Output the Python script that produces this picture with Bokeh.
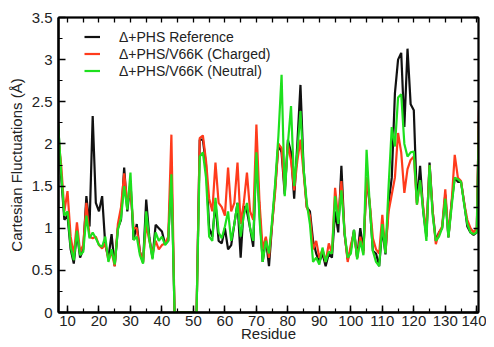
from bokeh.plotting import figure
from bokeh.models import FixedTicker, LinearAxis, NumeralTickFormatter, Range1d
from bokeh.embed import file_html
from bokeh.resources import INLINE

residues = list(range(7, 142))

reference = [
    2.25, 1.60, 1.10, 1.15, 0.75, 0.58, 0.95, 0.65, 0.75, 1.38,   # 7-16
    1.02, 2.33, 1.30, 1.20, 1.38, 0.80, 0.65, 0.93, 0.55, 1.00,   # 17-26
    1.10, 1.72, 1.20, 1.55, 0.86, 1.05, 0.72, 0.59, 1.34, 0.89,   # 27-36
    0.65, 1.04, 1.00, 0.96, 0.81, 0.85, 1.70,                     # 37-43
    0, 0, 0, 0, 0, 0, 0, 0,                                       # 44-51
    2.05, 2.05, 1.75, 1.00, 0.90, 1.30, 0.85, 0.82, 1.00, 0.75,   # 52-61
    0.80, 1.05, 1.30, 0.65, 1.26, 1.20, 1.00, 0.78, 1.90, 1.20,   # 62-71
    0.60, 0.88, 0.55, 1.05, 1.50, 2.00, 1.90, 1.40, 2.05, 1.90,   # 72-81
    1.35, 2.00, 2.70, 1.70, 1.25, 1.20, 0.85, 0.70, 0.60, 0.70,   # 82-91
    0.55, 0.70, 0.65, 1.20, 0.95, 1.74, 0.93, 0.63, 0.75, 0.98,   # 92-101
    0.65, 1.00, 0.73, 1.60, 1.28, 0.73, 0.70, 0.55, 1.00, 0.69,   # 102-111
    1.30, 1.60, 2.60, 3.00, 3.08, 2.20, 3.13, 2.47, 2.40, 1.30,   # 112-121
    1.74, 1.20, 0.90, 1.78, 1.20, 0.85, 0.95, 1.00, 1.40, 0.89,   # 122-131
    1.30, 1.60, 1.55, 1.55, 1.30, 1.02, 0.95, 0.92, 0.95, 3.00,   # 132-141
]

charged = [
    2.10, 1.75, 1.20, 1.44, 0.90, 0.68, 1.07, 0.72, 0.80, 1.30,
    0.90, 0.88, 0.90, 0.80, 0.76, 0.82, 0.62, 0.72, 0.55, 1.05,
    1.25, 1.65, 1.30, 1.45, 1.00, 1.00, 0.72, 0.60, 1.05, 0.85,
    0.70, 0.85, 0.75, 0.80, 0.82, 0.90, 2.11,
    0, 0, 0, 0, 0, 0, 0, 0,
    2.07, 2.10, 1.80, 1.35, 1.20, 1.78, 1.30, 1.25, 1.15, 1.72,
    1.20, 1.30, 1.78, 1.05, 1.30, 1.66, 1.20, 1.10, 2.23, 1.30,
    0.75, 0.90, 0.65, 1.05, 1.45, 2.00, 1.95, 1.45, 2.00, 1.80,
    1.45, 1.80, 2.05, 1.65, 1.25, 1.15, 0.75, 0.85, 0.65, 0.75,
    0.60, 0.82, 0.70, 1.48, 1.10, 1.56, 0.95, 0.60, 0.80, 0.95,
    0.65, 0.90, 0.70, 1.60, 1.30, 0.88, 0.75, 0.70, 1.16, 0.72,
    1.20, 1.40, 1.60, 2.13, 1.90, 1.42, 1.70, 1.81, 1.85, 1.28,
    1.55, 1.25, 0.95, 1.75, 1.20, 0.81, 0.95, 1.02, 1.46, 0.90,
    1.30, 1.87, 1.60, 1.56, 1.30, 1.10, 1.00, 0.95, 1.00, 3.00,
]

neutral = [
    2.25, 1.65, 1.15, 1.20, 0.78, 0.62, 0.97, 0.68, 0.72, 1.15,
    0.88, 0.95, 0.88, 0.80, 0.78, 0.90, 0.60, 0.75, 0.57, 0.98,
    1.12, 1.50, 1.22, 1.66, 0.86, 0.90, 0.68, 0.58, 1.20, 0.86,
    0.63, 0.95, 0.85, 0.90, 0.80, 0.85, 1.64,
    0, 0, 0, 0, 0, 0, 0, 0,
    1.85, 1.90, 1.60, 0.90, 0.85, 1.36, 0.95, 0.88, 1.02, 1.20,
    0.85, 1.05, 1.30, 0.90, 1.15, 1.30, 1.00, 0.85, 1.90, 1.10,
    0.60, 0.85, 0.70, 1.10, 1.55, 2.10, 2.82, 1.38, 2.00, 2.45,
    1.50, 1.90, 2.39, 1.70, 1.30, 1.05, 0.60, 0.65, 0.57, 0.77,
    0.60, 0.72, 0.70, 1.38, 1.05, 1.45, 0.95, 0.65, 0.70, 0.98,
    0.63, 0.85, 0.68, 1.93, 1.28, 0.73, 0.60, 0.55, 1.05, 0.70,
    1.50, 2.20, 1.97, 2.55, 2.59, 2.00, 1.85, 1.90, 1.91, 1.28,
    1.57, 1.20, 0.85, 1.75, 1.15, 0.85, 0.90, 1.00, 1.35, 0.89,
    1.25, 1.60, 1.58, 1.55, 1.28, 1.05, 0.95, 0.93, 0.95, 2.80,
]

series_names = ["\u0394+PHS Reference", "\u0394+PHS/V66K (Charged)", "\u0394+PHS/V66K (Neutral)"]
series_colors = ["#111111", "#ff3b1c", "#1ee01e"]
x_ticks = list(range(10, 141, 10))
x_minor = list(range(5, 146, 5))
y_ticks = [0, 0.5, 1, 1.5, 2, 2.5, 3, 3.5]
y_minor = [i * 0.25 for i in range(0, 15)]

FONT = "Liberation Sans"

p = figure(width=486, height=345, output_backend="svg", toolbar_location=None,
           x_range=Range1d(7.14, 140.55), y_range=Range1d(0, 3.5),
           min_border_left=58, min_border_right=8, min_border_top=17,
           min_border_bottom=33, background_fill_color="white")
p.xgrid.visible = False
p.ygrid.visible = False
p.outline_line_color = "black"
p.outline_line_width = 1.5

for data, name, color in zip([reference, charged, neutral], series_names, series_colors):
    p.line(residues, data, line_color=color, line_width=2.2, legend_label=name)

# mirrored frame ticks (no labels: only minor ticks)
top_axis = LinearAxis(ticker=FixedTicker(ticks=[], minor_ticks=x_minor))
right_axis = LinearAxis(ticker=FixedTicker(ticks=[], minor_ticks=y_minor))
for ax in (top_axis, right_axis):
    ax.minor_tick_in = 5
    ax.minor_tick_out = 0
    ax.major_tick_in = 0
    ax.major_tick_out = 0
    ax.minor_tick_line_width = 1.3
    ax.axis_line_width = 2
    ax.axis_line_color = "black"
    ax.major_label_standoff = 0
p.add_layout(top_axis, "above")
p.add_layout(right_axis, "right")

bottom = p.below[0]
left = p.left[0]
bottom.ticker = FixedTicker(ticks=x_ticks, minor_ticks=x_minor)
left.ticker = FixedTicker(ticks=y_ticks, minor_ticks=y_minor)
left.formatter = NumeralTickFormatter(format="0.[0]")

for ax in (bottom, left):
    ax.major_tick_in = 7
    ax.major_tick_out = 0
    ax.minor_tick_in = 4
    ax.minor_tick_out = 0
    ax.axis_line_width = 2.5
    ax.axis_line_color = "black"
    ax.major_tick_line_width = 1.5
    ax.minor_tick_line_width = 1.2
    ax.major_label_text_font = FONT
    ax.major_label_text_font_size = "15px"
    ax.major_label_text_color = "#222222"
    ax.axis_label_text_font = FONT
    ax.axis_label_text_font_size = "15px"
    ax.axis_label_text_font_style = "normal"
    ax.axis_label_text_color = "#222222"

bottom.axis_label = "Residue"
bottom.major_label_standoff = 3
bottom.axis_label_standoff = -4
left.axis_label = "Cartesian Fluctuations (\u00c5)"
left.major_label_standoff = 6
left.axis_label_standoff = 4

lg = p.legend[0]
lg.location = (26, 233)
lg.border_line_alpha = 0
lg.background_fill_alpha = 0
lg.padding = 0
lg.margin = 0
lg.spacing = 0
lg.glyph_width = 16
lg.glyph_height = 17
lg.label_height = 17
lg.label_standoff = 19
lg.label_text_font = FONT
lg.label_text_font_size = "14px"
lg.label_text_color = "#222222"

open("out.html", "w").write(file_html(p, INLINE))
